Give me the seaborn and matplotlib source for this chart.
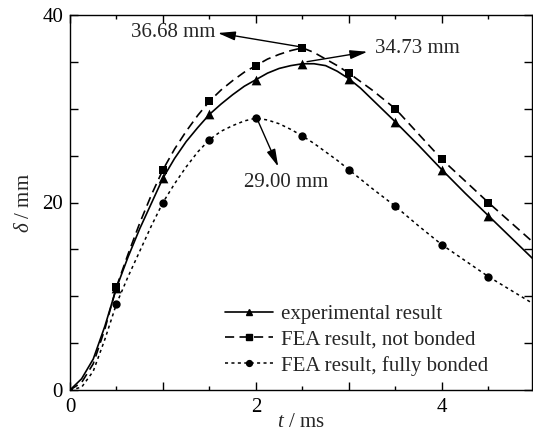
import matplotlib
matplotlib.use("Agg")
import matplotlib.pyplot as plt
import seaborn as sns
import pandas as pd
from matplotlib.lines import Line2D
from matplotlib.ticker import MultipleLocator, FuncFormatter

# ---- data ----
curve_t = [0, 0.125, 0.25, 0.375, 0.5, 0.625, 0.75, 0.875, 1.0, 1.125, 1.25, 1.375,
           1.5, 1.625, 1.75, 1.875, 2.0, 2.125, 2.25, 2.375, 2.5, 2.625, 2.75, 2.875,
           3.0, 3.125, 3.25, 3.5, 3.75, 4.0, 4.25, 4.5, 4.75, 5.0]
exp_curve = [0, 1.2, 3.3, 6.8, 10.9, 14.2, 17.2, 19.9, 22.6, 24.7, 26.5, 28.0,
             29.4, 30.5, 31.5, 32.4, 33.1, 33.8, 34.3, 34.6, 34.8, 34.8, 34.6, 34.0,
             33.2, 32.2, 31.0, 28.6, 26.1, 23.5, 21.0, 18.6, 16.2, 13.8]
nb_curve = [0, 0.8, 2.8, 6.5, 11.0, 14.5, 17.8, 20.8, 23.5, 25.7, 27.6, 29.3,
            30.8, 32.0, 33.0, 33.9, 34.6, 35.3, 35.8, 36.2, 36.5, 36.0, 35.3, 34.6,
            33.8, 32.9, 32.0, 30.0, 27.3, 24.6, 22.3, 20.0, 17.8, 15.6]
fb_curve = [0, 0.3, 2.0, 5.4, 9.2, 12.1, 14.8, 17.5, 20.0, 22.0, 23.8, 25.4,
            26.7, 27.6, 28.2, 28.7, 29.0, 28.8, 28.4, 27.8, 27.1, 26.3, 25.4, 24.5,
            23.5, 22.5, 21.5, 19.6, 17.5, 15.5, 13.8, 12.1, 10.6, 9.1]

marker_t = [0.5, 1.0, 1.5, 2.0, 2.5, 3.0, 3.5, 4.0, 4.5]
exp_pts = [10.9, 22.6, 29.4, 33.1, 34.8, 33.2, 28.6, 23.5, 18.6]
nb_pts = [11.0, 23.5, 30.8, 34.6, 36.5, 33.8, 30.0, 24.6, 20.0]
fb_pts = [9.2, 20.0, 26.7, 29.0, 27.1, 23.5, 19.6, 15.5, 12.1]

series_names = ["experimental result", "FEA result, not bonded", "FEA result, fully bonded"]
peak_labels = ["36.68 mm", "34.73 mm", "29.00 mm"]
x_tick_labels = ["0", "2", "4"]
y_tick_labels = ["0", "20", "40"]

# ---- tables ----
curves = pd.DataFrame({
    "t": curve_t * 3,
    "delta": exp_curve + nb_curve + fb_curve,
    "series": [series_names[0]] * len(curve_t) + [series_names[1]] * len(curve_t)
              + [series_names[2]] * len(curve_t),
})
points = pd.DataFrame({
    "t": marker_t * 3,
    "delta": exp_pts + nb_pts + fb_pts,
    "series": [series_names[0]] * len(marker_t) + [series_names[1]] * len(marker_t)
              + [series_names[2]] * len(marker_t),
})

# ---- style ----
sns.set_style("ticks")
plt.rcParams["font.family"] = ["Liberation Serif", "DejaVu Serif"]
plt.rcParams["mathtext.fontset"] = "custom"
plt.rcParams["mathtext.rm"] = "Liberation Serif"
plt.rcParams["mathtext.it"] = "Liberation Serif:italic"
plt.rcParams["font.size"] = 15

fig = plt.figure(figsize=(5.33, 4.33), dpi=100)
ax = fig.add_axes([70 / 533, 1 - 390 / 433, 462 / 533, 375 / 433])

styles = {
    series_names[0]: dict(ls="-", lw=1.2, marker="^", ms=7.0),
    series_names[1]: dict(ls=(0, (5.5, 3.2)), lw=1.2, marker="s", ms=6.0),
    series_names[2]: dict(ls=(0, (2.0, 2.2)), lw=1.1, marker="o", ms=6.0),
}

for name in series_names:
    st = styles[name]
    sub = curves[curves["series"] == name]
    sns.lineplot(data=sub, x="t", y="delta", color="black", linestyle=st["ls"],
                 linewidth=st["lw"], ax=ax, legend=False, sort=True)
    psub = points[points["series"] == name]
    sns.scatterplot(data=psub, x="t", y="delta", marker=st["marker"], color="black",
                    s=st["ms"] ** 2, edgecolor="black", linewidth=0, ax=ax,
                    legend=False, zorder=5)

# ---- annotations ----
arrow_kw = dict(arrowstyle="-|>,head_length=0.7,head_width=0.18", color="black",
                lw=1.0, shrinkA=0, shrinkB=0)
ax.annotate("", xy=(1.59, 38.08), xytext=(2.47, 36.62), arrowprops=arrow_kw)
ax.text(1.56, 38.1, peak_labels[0], ha="right", va="center", fontsize=15)
ax.annotate("", xy=(3.20, 36.08), xytext=(2.55, 35.02), arrowprops=arrow_kw)
ax.text(3.28, 36.45, peak_labels[1], ha="left", va="center", fontsize=15)
ax.annotate("", xy=(2.24, 23.82), xytext=(2.01, 28.98), arrowprops=arrow_kw)
ax.text(2.32, 22.1, peak_labels[2], ha="center", va="center", fontsize=15)

# ---- axes ----
ax.set_xlim(0, 4.97)
ax.set_ylim(0, 40)
ax.xaxis.set_major_locator(MultipleLocator(1))
ax.xaxis.set_minor_locator(MultipleLocator(0.5))
ax.xaxis.set_major_formatter(FuncFormatter(
    lambda v, p: x_tick_labels[int(round(v)) // 2] if abs(v - round(v)) < 1e-6 and int(round(v)) % 2 == 0 and 0 <= int(round(v)) // 2 < len(x_tick_labels) else ""))
ax.yaxis.set_major_locator(MultipleLocator(5))
ax.yaxis.set_major_formatter(FuncFormatter(
    lambda v, p: y_tick_labels[int(round(v)) // 20] if int(round(v)) % 20 == 0 and 0 <= int(round(v)) // 20 < len(y_tick_labels) else ""))
ax.tick_params(which="both", direction="in", top=True, right=True, width=1.0,
               labelsize=15, colors="black")
ax.tick_params(axis="x", which="major", length=6, pad=6)
ax.tick_params(axis="x", which="minor", length=3)
ax.tick_params(axis="y", which="major", length=6, pad=5)
for sp in ax.spines.values():
    sp.set_linewidth(1.0)
    sp.set_color("black")

ax.set_xlabel("$t$ / ms", fontsize=15, labelpad=-3)
ax.set_ylabel(r"$\delta$ / mm", fontsize=15, labelpad=6)

handles = [Line2D([], [], color="black", linestyle=styles[n]["ls"], lw=styles[n]["lw"],
                  marker=styles[n]["marker"], markersize=styles[n]["ms"] * 0.7)
           for n in series_names]
ax.legend(handles, series_names, loc="center left", frameon=False,
          bbox_to_anchor=(225 / 533, 1 - 340 / 433), bbox_transform=fig.transFigure,
          borderaxespad=0, borderpad=0, handlelength=2.3, handletextpad=0.4,
          labelspacing=0.3, fontsize=15)

fig.savefig("out.png", dpi=100)
